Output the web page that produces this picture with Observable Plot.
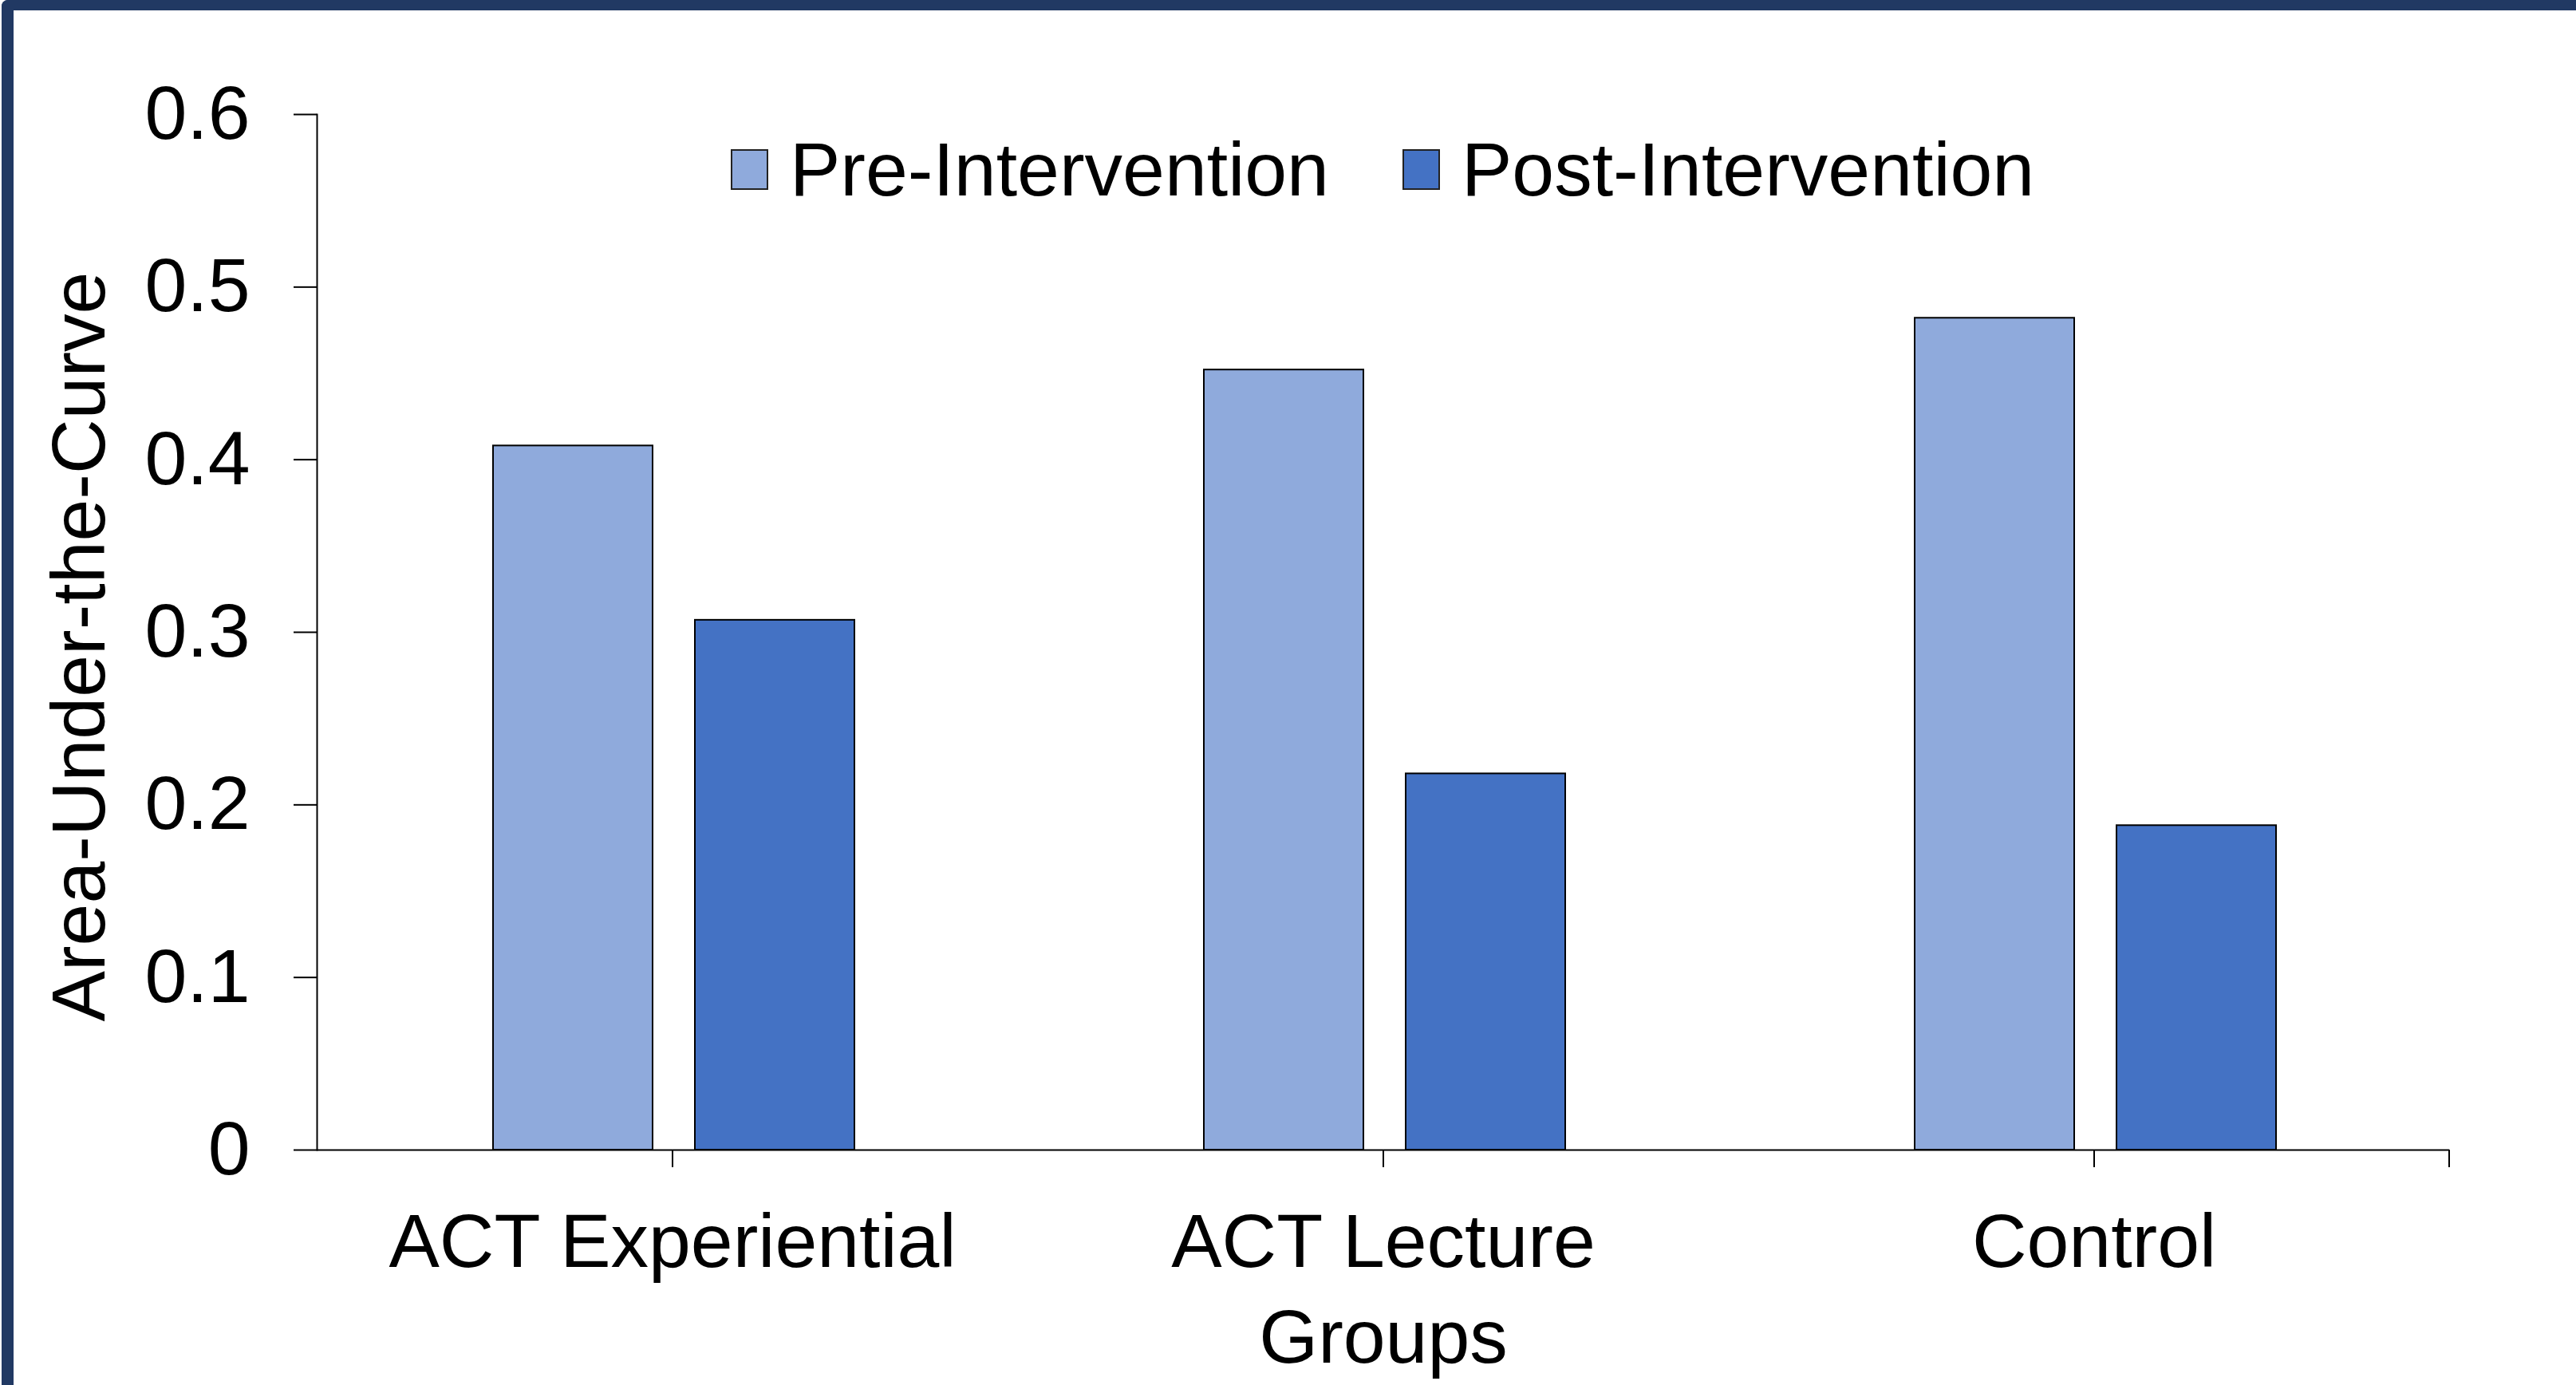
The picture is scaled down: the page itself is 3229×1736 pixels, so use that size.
<!DOCTYPE html>
<html>
<head>
<meta charset="utf-8">
<script src="https://cdn.jsdelivr.net/npm/d3@7"></script>
<script src="https://cdn.jsdelivr.net/npm/@observablehq/plot@0.6"></script>
<style>
  html, body { margin: 0; padding: 0; background: #fff; }
  #wrap { position: relative; width: 3229px; height: 1736px; overflow: hidden; font-family: 'Liberation Sans', Arial, sans-serif; }
  #chart { position: absolute; left: 0; top: 0; }
  #frame { position: absolute; left: 2px; top: 0; width: 3240px; height: 1760px; box-sizing: border-box;
           border-top: 13px solid #213963; border-left: 15px solid #213963; border-top-left-radius: 8px; pointer-events: none; }
  .leg { position: absolute; top: 152px; height: 120px; display: flex; align-items: center; font-size: 95px; color: #000; white-space: nowrap; }
  .sw { width: 47px; height: 51px; box-sizing: border-box; border: 2px solid #222; margin-right: 27px; }
  #ylab { position: absolute; left: -502px; top: 763px; width: 1200px; height: 95px; line-height: 95px; text-align: center;
          font-size: 95px; color: #000; transform: rotate(-90deg); transform-origin: 50% 50%; white-space: nowrap; }
</style>
</head>
<body>
<div id="wrap">
  <div id="chart"></div>
  <div id="legend"></div>
  <div id="ylab"></div>
  <div id="frame"></div>
</div>
<script>
const groups = ["ACT Experiential", "ACT Lecture", "Control"];
const series = ["Pre-Intervention", "Post-Intervention"];
const preValues = [0.408, 0.452, 0.482];
const postValues = [0.307, 0.218, 0.188];
const seriesColors = ["#8FAADC", "#4472C4"];
const yTicks = [0, 0.1, 0.2, 0.3, 0.4, 0.5, 0.6];
const yLabel = "Area-Under-the-Curve";
const xLabel = "Groups";

const data = groups.flatMap((g, i) => [
  {group: g, series: series[0], value: preValues[i]},
  {group: g, series: series[1], value: postValues[i]}
]);

const plot = Plot.plot({
  width: 3229,
  height: 1736,
  marginLeft: 397,
  marginRight: 159,
  marginTop: 143,
  marginBottom: 295,
  style: {fontFamily: "'Liberation Sans', Arial, sans-serif", fontSize: "95px", color: "#000", background: "transparent", overflow: "visible"},
  fx: {domain: groups, padding: 0},
  x: {domain: series, paddingInner: 0.2095, paddingOuter: 0.8656, align: 0.505, axis: null},
  y: {domain: [0, 0.6]},
  color: {domain: series, range: seriesColors},
  marks: [
    Plot.barY(data, {fx: "group", x: "series", y: "value", fill: "series", stroke: "#000", strokeWidth: 2}),
    Plot.ruleY([0], {stroke: "#000", strokeWidth: 2}),
    Plot.frame({anchor: "left", facetAnchor: "left", stroke: "#000", strokeWidth: 2}),
    Plot.axisY({ticks: yTicks, tickFormat: d => String(d), tickSize: 29, tickPadding: 55, strokeWidth: 2, label: null, fontSize: 95}),
    Plot.axisFx({anchor: "bottom", tickSize: 22, tickPadding: 57, strokeWidth: 2, fontSize: 95,
                 label: xLabel, labelAnchor: "center", labelOffset: 266, labelArrow: "none"})
  ]
});
document.getElementById("chart").appendChild(plot);

// closing tick at the right end of the category axis
const fxs = plot.scale("fx");
const ys = plot.scale("y");
const xEnd = fxs.range[1];
const yBase = ys.apply(0);
d3.select(plot).append("line")
  .attr("x1", xEnd).attr("x2", xEnd)
  .attr("y1", yBase).attr("y2", yBase + 22)
  .attr("stroke", "#000").attr("stroke-width", 2);

// legend
const legend = document.getElementById("legend");
const legendLeft = [916, 1758];
series.forEach((s, i) => {
  const item = document.createElement("div");
  item.className = "leg";
  item.style.left = legendLeft[i] + "px";
  const sw = document.createElement("div");
  sw.className = "sw";
  sw.style.background = seriesColors[i];
  const t = document.createElement("span");
  t.textContent = s;
  item.appendChild(sw);
  item.appendChild(t);
  legend.appendChild(item);
});

document.getElementById("ylab").textContent = yLabel;
</script>
</body>
</html>
